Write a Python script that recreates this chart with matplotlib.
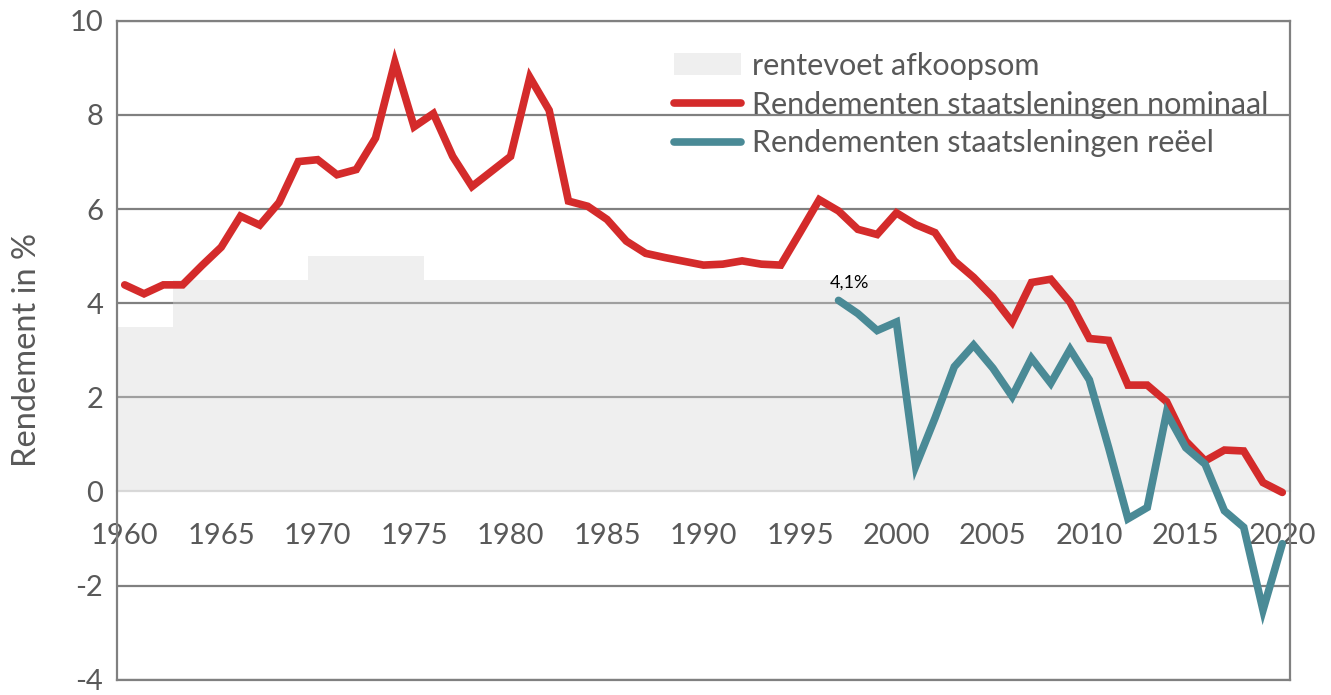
import numpy as np
import matplotlib
matplotlib.use("Agg")
import matplotlib.pyplot as plt

plt.rcParams['font.family'] = ['Lato', 'DejaVu Sans']

years = list(range(1960, 2021))
nominal = [4.39, 4.20, 4.39, 4.39, 4.80, 5.19, 5.85, 5.66, 6.14, 7.01,
           7.05, 6.73, 6.84, 7.51, 9.12, 7.75, 8.03, 7.12, 6.48, 6.80,
           7.12, 8.80, 8.10, 6.17, 6.06, 5.78, 5.32, 5.06, 4.97, 4.89,
           4.81, 4.83, 4.90, 4.83, 4.81, 5.50, 6.20, 5.96, 5.57, 5.46,
           5.92, 5.67, 5.50, 4.90, 4.55, 4.13, 3.60, 4.44, 4.51, 4.02,
           3.25, 3.21, 2.26, 2.26, 1.91, 1.07, 0.65, 0.88, 0.86, 0.19,
           -0.02]
real_years = list(range(1997, 2021))
real = [4.06, 3.78, 3.42, 3.60, 0.54, 1.56, 2.65, 3.11, 2.62, 2.02,
        2.83, 2.30, 3.02, 2.37, 0.93, -0.58, -0.34, 1.67, 0.93, 0.58,
        -0.41, -0.76, -2.52, -1.11]
afkoop = [3.5, 3.5, 3.5, 4.5, 4.5, 4.5, 4.5, 4.5, 4.5, 4.5,
          5.0, 5.0, 5.0, 5.0, 5.0, 5.0, 4.5, 4.5, 4.5, 4.5,
          4.5, 4.5, 4.5, 4.5, 4.5, 4.5, 4.5, 4.5, 4.5, 4.5,
          4.5, 4.5, 4.5, 4.5, 4.5, 4.5, 4.5, 4.5, 4.5, 4.5,
          4.5, 4.5, 4.5, 4.5, 4.5, 4.5, 4.5, 4.5, 4.5, 4.5,
          4.5, 4.5, 4.5, 4.5, 4.5, 4.5, 4.5, 4.5, 4.5, 4.5,
          4.5]
xticks = list(range(1960, 2021, 5))
yticks = [-4, -2, 0, 2, 4, 6, 8, 10]
labels = ['rentevoet afkoopsom', 'Rendementen staatsleningen nominaal',
          'Rendementen staatsleningen reëel']
ylabel = 'Rendement in %'
annot_text = '4,1%'

TXT = '#595959'
GRID = '#808080'
RED = '#D42B2B'
TEAL = '#4A8A96'

fig = plt.figure(figsize=(13.31, 6.95), dpi=100)
ax = fig.add_axes([0.0879, 0.022, 0.8813, 0.948])

yrs = np.array(years, dtype=float)
xf = np.concatenate([[yrs[0] - 0.5], yrs, [yrs[-1] + 0.5]])
yf = np.concatenate([[afkoop[0]], afkoop, [afkoop[-1]]])
ax.fill_between(xf, 0, yf, step='mid', color='#D6D6D6', alpha=0.37,
                linewidth=0, label=labels[0], zorder=2)
ax.plot(years, nominal, color=RED, lw=5.5, solid_capstyle='round',
        solid_joinstyle='miter', label=labels[1], zorder=4)
ax.plot(real_years, real, color=TEAL, lw=5.5, solid_capstyle='round',
        solid_joinstyle='miter', label=labels[2], zorder=4)

ax.annotate(annot_text, xy=(real_years[0], real[0]), xytext=(8, 7),
            textcoords='offset points', ha='center', va='bottom',
            fontsize=13, color='black', zorder=5)

ax.set_xlim(1959.6, 2020.4)
ax.set_ylim(-4, 10)
ax.set_yticks(yticks)
ax.set_yticklabels([str(v) for v in yticks])
ax.set_xticks(xticks)
ax.tick_params(axis='x', labelbottom=False, length=0)
ax.tick_params(axis='y', length=0, pad=10, labelsize=21, labelcolor=TXT)
ax.set_ylabel(ylabel, fontsize=23.5, color=TXT, labelpad=20)

ax.set_axisbelow(True)
ax.yaxis.grid(True, color=GRID, lw=1.6)
ax.xaxis.grid(False)
fig.canvas.draw()
for t, gl in zip(ax.get_yticks(), ax.get_ygridlines()):
    if t == 0:
        gl.set_visible(False)

for s in ax.spines.values():
    s.set_color(GRID)
    s.set_linewidth(1.6)

sec = ax.secondary_xaxis(0, transform=ax.transData)
sec.set_xticks(xticks)
sec.set_xticklabels([str(v) for v in xticks])
sec.tick_params(axis='x', length=0, pad=23, labelsize=21, labelcolor=TXT)
sec.spines['bottom'].set_color('#D9D9D9')
sec.spines['bottom'].set_linewidth(1.6)

leg = ax.legend(loc='upper left', bbox_to_anchor=(0.475, 0.953), frameon=False,
                fontsize=22, handlelength=2.2, handletextpad=0.36,
                labelspacing=0.35, borderaxespad=0, borderpad=0)
for t in leg.get_texts():
    t.set_color(TXT)

fig.savefig('out.png', dpi=100)
